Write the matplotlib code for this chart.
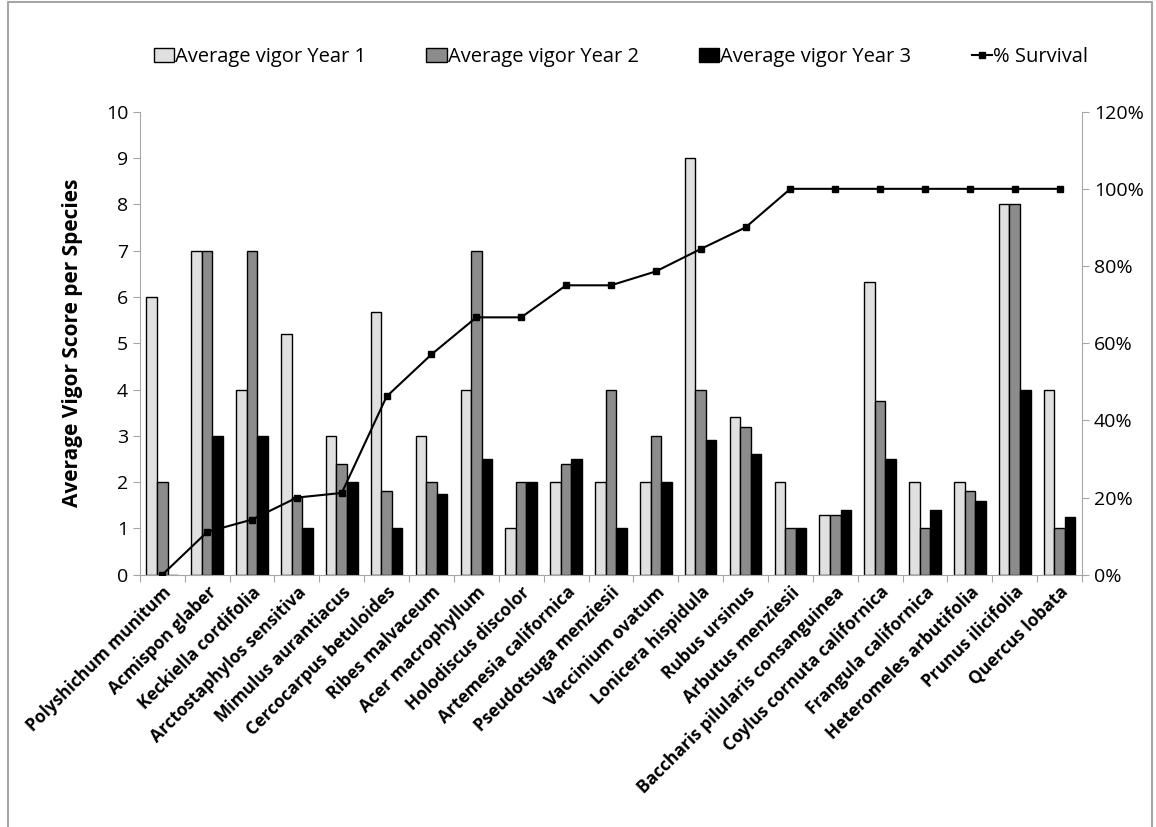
import numpy as np
import matplotlib
matplotlib.use('Agg')
import matplotlib.pyplot as plt
from matplotlib.lines import Line2D
from matplotlib.ticker import PercentFormatter

plt.rcParams['font.family'] = ['Open Sans', 'DejaVu Sans']

species = ['Polyshichum munitum', 'Acmispon glaber', 'Keckiella cordifolia',
           'Arctostaphylos sensitiva', 'Mimulus aurantiacus', 'Cercocarpus betuloides',
           'Ribes malvaceum', 'Acer macrophyllum', 'Holodiscus discolor',
           'Artemesia californica', 'Pseudotsuga menziesii', 'Vaccinium ovatum',
           'Lonicera hispidula', 'Rubus ursinus', 'Arbutus menziesii',
           'Baccharis pilularis consanguinea', 'Coylus cornuta californica',
           'Frangula californica', 'Heteromeles arbutifolia', 'Prunus ilicifolia',
           'Quercus lobata']
year1 = [6, 7, 4, 5.2, 3, 5.67, 3, 4, 1, 2, 2, 2, 9, 3.4, 2, 1.3, 6.33, 2, 2, 8, 4]
year2 = [2, 7, 7, 1.67, 2.4, 1.8, 2, 7, 2, 2.4, 4, 3, 4, 3.2, 1, 1.3, 3.75, 1, 1.8, 8, 1]
year3 = [0, 3, 3, 1, 2, 1, 1.75, 2.5, 2, 2.5, 1, 2, 2.9, 2.6, 1, 1.4, 2.5, 1.4, 1.6, 4, 1.25]
survival = [0, 11.1, 14.3, 20, 21.2, 46.2, 57.1, 66.7, 66.7, 75, 75, 78.6, 84.4, 90,
            100, 100, 100, 100, 100, 100, 100]

fig = plt.figure(figsize=(11.56, 8.27), dpi=100)
# chart area border (left, top, right)
fig.lines.append(Line2D([0.0065, 0.0065, 0.9965, 0.9965], [0, 0.9975, 0.9975, 0],
                        transform=fig.transFigure, color='#a6a6a6', lw=1.5))
ax = fig.add_axes([0.121, 0.305, 0.815, 0.56])
x = np.arange(len(species))
w = 0.235
ax.bar(x - w, year1, w, color='#e0e0e0', edgecolor='black', lw=1, label='Average vigor Year 1')
ax.bar(x, year2, w, color='#8c8c8c', edgecolor='black', lw=1, label='Average vigor Year 2')
ax.bar(x + w, year3, w, color='black', edgecolor='black', lw=1, label='Average vigor Year 3')
ax.set_xlim(-0.5, len(species) - 0.5)
ax.set_ylim(0, 10)
ax.set_yticks(range(0, 11))
ax.set_xticks(np.arange(-0.5, len(species), 1), minor=False)
ax.set_xticklabels([])
ax.set_xticks(x, minor=True)
ax.set_xticklabels(species, minor=True, rotation=45, ha='right', rotation_mode='anchor',
                   fontsize=12.5, fontweight='bold')
ax.tick_params(axis='x', which='minor', length=0, pad=6)
ax.tick_params(axis='x', which='major', length=5, color='#a6a6a6')
ax.tick_params(axis='y', length=5, color='#a6a6a6', labelsize=14)
ax.set_ylabel('Average Vigor Score per Species', fontsize=15, fontweight='bold', labelpad=16)
for s in ['top', 'right']:
    ax.spines[s].set_visible(False)
for s in ['left', 'bottom']:
    ax.spines[s].set_color('#a6a6a6')

ax2 = ax.twinx()
ax2.plot(x, survival, color='black', lw=1.5, marker='s', markersize=4, label='% Survival')
ax2.set_ylim(0, 120)
ax2.set_yticks(range(0, 121, 20))
ax2.yaxis.set_major_formatter(PercentFormatter(decimals=0))
ax2.tick_params(axis='y', length=5, color='#a6a6a6', labelsize=14)
for s in ['top', 'left', 'bottom']:
    ax2.spines[s].set_visible(False)
ax2.spines['right'].set_color('#a6a6a6')

h1, l1 = ax.get_legend_handles_labels()
h2, l2 = ax2.get_legend_handles_labels()
fig.legend(h1 + h2, l1 + l2, loc='center', bbox_to_anchor=(0.537, 0.931), ncol=4,
           frameon=False, fontsize=14.5, handlelength=1.0, handletextpad=0.05,
           columnspacing=3.0)

fig.savefig('out.png', dpi=100)
